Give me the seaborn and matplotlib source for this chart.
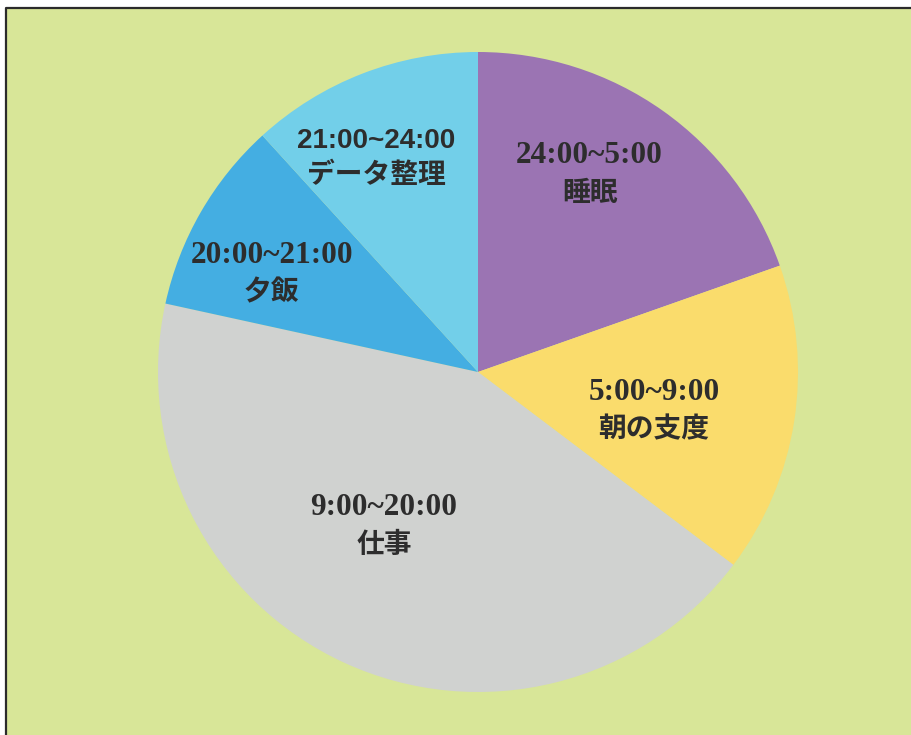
import numpy as np
import matplotlib
matplotlib.use("Agg")
import matplotlib.pyplot as plt
from matplotlib.patches import Rectangle
from matplotlib.lines import Line2D
import seaborn as sns

# === datos ===
horas = ["24:00~5:00", "5:00~9:00", "9:00~20:00", "20:00~21:00", "21:00~24:00"]
actividades = ["睡眠", "朝の支度", "仕事", "夕飯", "データ整理"]
valores = [20, 16, 44, 10, 12]
colores = ["#9b74b3", "#fadc6c", "#d0d2d0", "#44aee2", "#72cfe9"]

# estilo de etiquetas (posición relativa a cada cuña)
radio_etiqueta = [0.717, 0.561, 0.556, 0.718, 0.749]
giro_etiqueta = [6.2, -2.7, -7.2, 3.9, 4.0]
serif = [True, True, True, True, False]

sns.set_theme(style="white")
texto = "#2d2d2d"
fuente_serif = ["Liberation Serif", "Noto Sans CJK JP"]
fuente_sans = ["Liberation Sans", "Noto Sans CJK JP"]

W, H = 912, 735
fondo = "#d8e698"
fig = plt.figure(figsize=(W / 100, H / 100), dpi=100, facecolor=fondo)

# franjas blancas arriba e izquierda, y el marco
x0, y0 = 6 / W, 1 - 8.3 / H
fig.patches.append(Rectangle((0, y0), 1, 1 - y0, transform=fig.transFigure,
                             facecolor="white", edgecolor="none", zorder=-5))
fig.patches.append(Rectangle((0, 0), x0, 1, transform=fig.transFigure,
                             facecolor="white", edgecolor="none", zorder=-5))
fig.lines.append(Line2D([x0, x0, 1.0], [0, y0, y0], transform=fig.transFigure,
                        color="#2b2b2b", linewidth=1.6, zorder=-4))

cx, cy, R = 478, H - 372, 320
lado = 2.2 * R
ax = fig.add_axes([(cx - lado / 2) / W, (cy - lado / 2) / H, lado / W, lado / H])
ax.set_facecolor("none")
ax.set_zorder(2)

cunas, _ = ax.pie(valores, colors=sns.color_palette(colores), startangle=90,
                  counterclock=False, wedgeprops=dict(linewidth=0))
ax.set_xlim(-1.1, 1.1)
ax.set_ylim(-1.1, 1.1)
ax.set_aspect("equal")

bajada = -2.5
for i, w in enumerate(cunas):
    medio = np.deg2rad((w.theta1 + w.theta2) / 2 + giro_etiqueta[i])
    x = radio_etiqueta[i] * np.cos(medio)
    y = radio_etiqueta[i] * np.sin(medio)
    if serif[i]:
        fam, t1, t2, d = fuente_serif, 22.5, 20, 13.7
    else:
        fam, t1, t2, d = fuente_sans, 20, 20, 12.4
    ax.annotate(horas[i], (x, y), xytext=(0, d + bajada), textcoords="offset points",
                ha="center", va="center", fontsize=t1, fontweight="bold",
                color=texto, family=fam)
    ax.annotate(actividades[i], (x, y), xytext=(0, -d + bajada), textcoords="offset points",
                ha="center", va="center", fontsize=t2, fontweight="bold",
                color=texto, family=fam)

fig.savefig("out.png", dpi=100, facecolor=fig.get_facecolor())
